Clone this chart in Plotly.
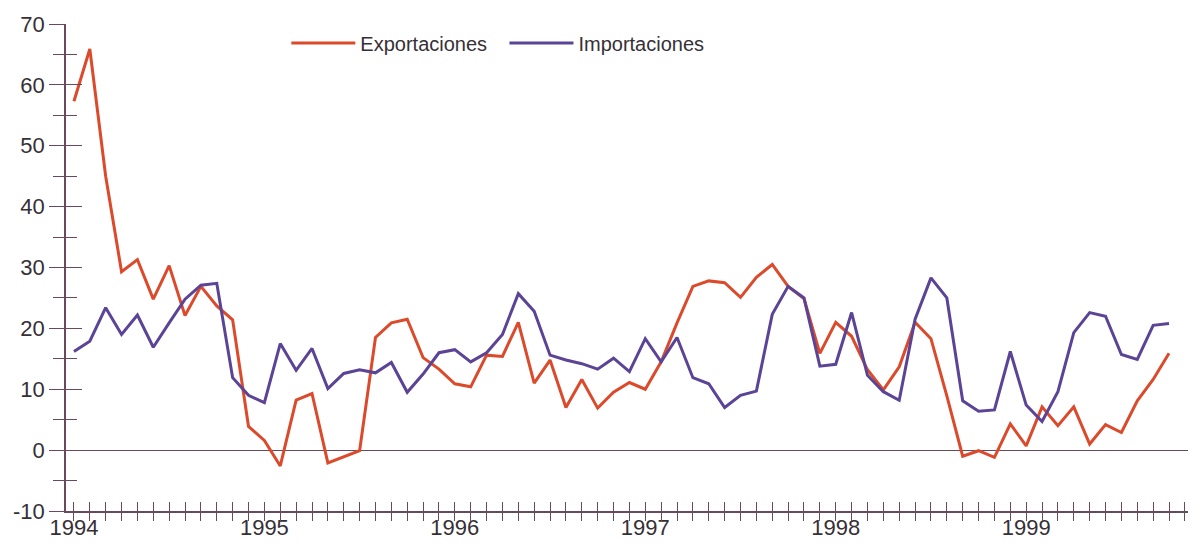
import plotly.graph_objects as go

years = ["1994", "1995", "1996", "1997", "1998", "1999"]
y_tick_vals = [-10, 0, 10, 20, 30, 40, 50, 60, 70]
y_tick_text = ["-10", "0", "10", "20", "30", "40", "50", "60", "70"]
n_months = 70  # Jan 1994 .. Oct 1999

exportaciones = [
    57.3, 65.9, 45.0, 29.3, 31.3, 24.8, 30.3, 22.1, 26.9, 23.7, 21.4, 3.9,
    1.6, -2.6, 8.2, 9.3, -2.1, -1.1, -0.1, 18.5, 20.9, 21.5, 15.2, 13.3,
    10.9, 10.4, 15.6, 15.4, 21.0, 11.0, 14.8, 7.0, 11.6, 6.9, 9.5, 11.1,
    10.0, 14.5, 20.9, 26.9, 27.8, 27.5, 25.1, 28.4, 30.5, 26.9, 24.9, 15.9,
    21.0, 18.7, 13.2, 9.9, 13.7, 21.0, 18.3, 8.9, -1.0, -0.1, -1.2, 4.3,
    0.7, 7.1, 4.0, 7.1, 1.0, 4.2, 2.9, 8.1, 11.6, 15.9,
]
importaciones = [
    16.2, 17.9, 23.4, 19.0, 22.2, 16.9, 20.9, 24.8, 27.1, 27.4, 11.9, 9.0,
    7.8, 17.5, 13.1, 16.7, 10.1, 12.6, 13.2, 12.7, 14.4, 9.5, 12.5, 16.0,
    16.5, 14.5, 16.0, 19.0, 25.7, 22.8, 15.6, 14.8, 14.2, 13.3, 15.1, 12.9,
    18.3, 14.5, 18.5, 11.9, 10.9, 7.0, 9.0, 9.7, 22.3, 26.9, 25.0, 13.8,
    14.1, 22.6, 12.3, 9.6, 8.2, 21.5, 28.3, 25.0, 8.1, 6.4, 6.6, 16.2,
    7.4, 4.7, 9.6, 19.3, 22.6, 22.0, 15.7, 14.9, 20.5, 20.8,
]

months = list(range(n_months))
tick_vals = list(range(0, 72))
tick_text = [years[v // 12] if v % 12 == 0 and v // 12 < len(years) else "" for v in tick_vals]

RED = "#dc4a2c"
PURPLE = "#5b4496"
AXIS = "#6a4a5a"
TEXT = "#363036"
FONT = "Liberation Sans, Arial, sans-serif"

fig = go.Figure()
fig.add_trace(go.Scatter(x=months, y=exportaciones, mode="lines", name="Exportaciones",
                         line=dict(color=RED, width=3), legend="legend"))
fig.add_trace(go.Scatter(x=months, y=importaciones, mode="lines", name="Importaciones",
                         line=dict(color=PURPLE, width=3), legend="legend2"))
# invisible trace to carry the secondary (outside-tick) axes
fig.add_trace(go.Scatter(x=[0], y=[0], xaxis="x2", yaxis="y2", mode="markers",
                         marker=dict(opacity=0), showlegend=False, hoverinfo="skip"))

xr = [-0.5, 70.7]
yr = [-10, 70]

legend_style = dict(orientation="h", y=0.961, xanchor="left", yanchor="middle",
                    font=dict(size=20, color=TEXT), itemwidth=64,
                    bgcolor="rgba(0,0,0,0)")

fig.update_layout(
    # page body has an 8px default margin, so the figure is sized to fit the 1196x545 window
    width=1188, height=537,
    margin=dict(l=58, r=0, t=16, b=34, autoexpand=False),
    paper_bgcolor="white", plot_bgcolor="white",
    font=dict(family=FONT, color=TEXT, size=22),
    showlegend=True,
    legend=dict(x=0.195, **legend_style),
    legend2=dict(x=0.388, **legend_style),
    xaxis=dict(range=xr, tickmode="array", tickvals=tick_vals, ticktext=tick_text,
               ticks="inside", ticklen=9, tickwidth=1.3, tickcolor=AXIS,
               showline=True, linecolor=AXIS, linewidth=1.5, showgrid=False,
               zeroline=False, tickfont=dict(size=22, color=TEXT), automargin=False,
               ticklabelstandoff=-4),
    yaxis=dict(range=yr, tickmode="array", tickvals=y_tick_vals, ticktext=y_tick_text,
               ticks="outside", ticklen=15, tickwidth=1.3, tickcolor=AXIS,
               minor=dict(tickmode="linear", dtick=5, tick0=0, ticks="outside", ticklen=11,
                          tickwidth=1.3, tickcolor=AXIS),
               showline=True, linecolor=AXIS, linewidth=1.5, showgrid=False,
               zeroline=True, zerolinecolor=AXIS, zerolinewidth=1.2,
               tickfont=dict(size=22, color=TEXT), ticklabelstandoff=0, automargin=False),
    xaxis2=dict(range=xr, overlaying="x", tickmode="array", tickvals=tick_vals,
                ticks="outside", ticklen=9, tickwidth=1.3, tickcolor=AXIS,
                showticklabels=False, showgrid=False, zeroline=False, showline=False,
                automargin=False),
    yaxis2=dict(range=yr, overlaying="y", tickmode="array", tickvals=y_tick_vals,
                ticks="inside", ticklen=16, tickwidth=1.3, tickcolor=AXIS,
                minor=dict(tickmode="linear", dtick=5, tick0=0, ticks="inside", ticklen=11,
                           tickwidth=1.3, tickcolor=AXIS),
                showticklabels=False, showgrid=False, zeroline=False, showline=False,
                automargin=False),
)

fig.write_html("out.html")
